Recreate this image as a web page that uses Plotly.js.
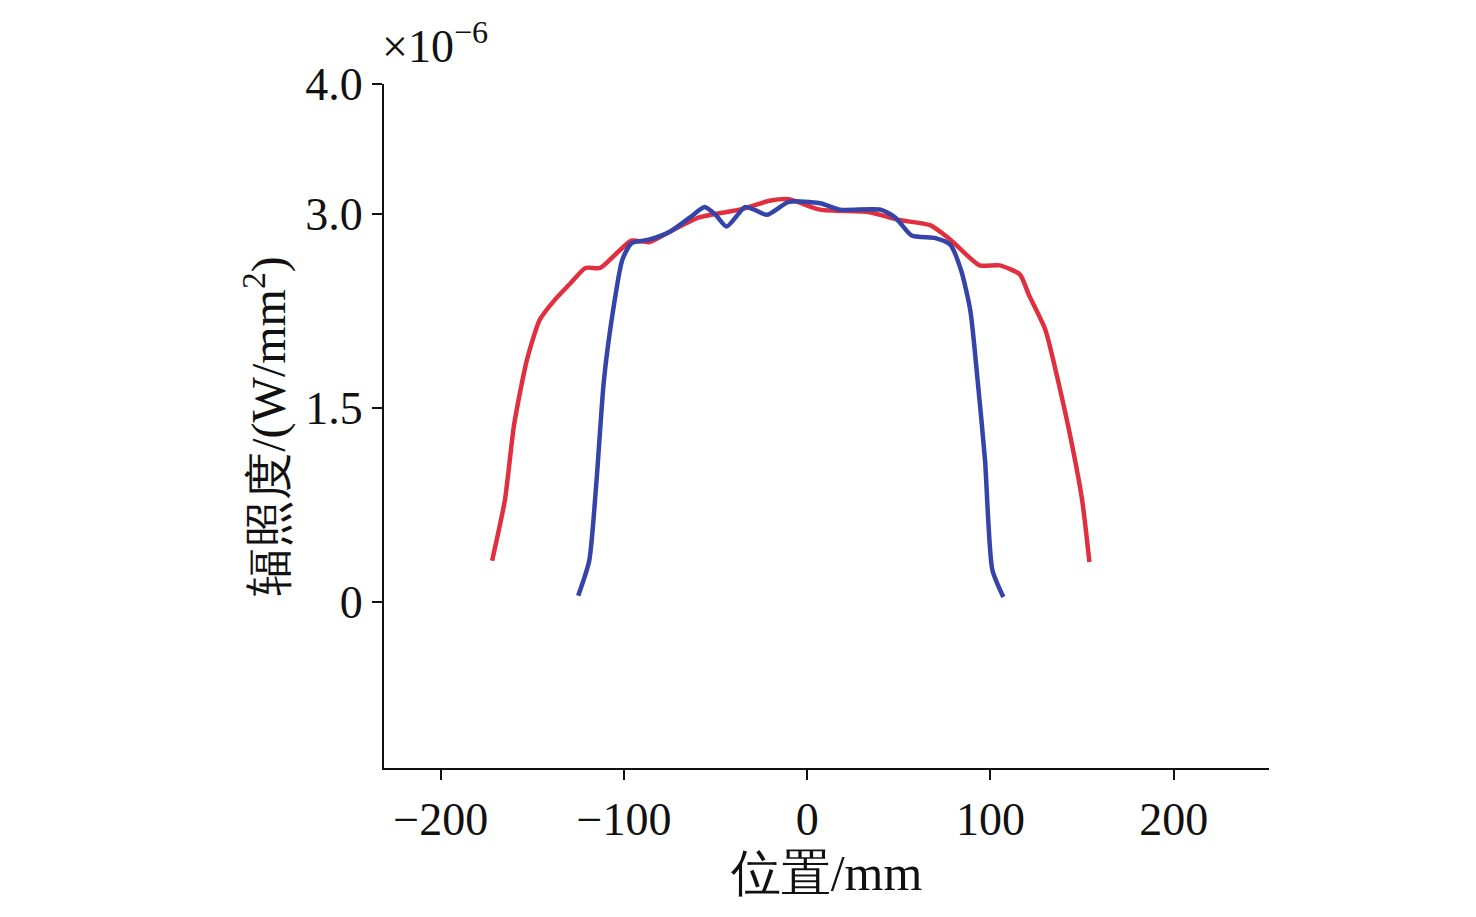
<!DOCTYPE html>
<html><head><meta charset="utf-8">
<script src="https://cdn.plot.ly/plotly-3.0.1.min.js"></script>
<style>body{margin:0;background:#fff}</style></head>
<body><div id="chart" style="width:1476px;height:917px"></div>
<script>
const redX = [-172,-165,-160,-153,-146,-138,-130,-121,-113,-105,-96,-86,-75,-59,-37,-20,-10,7,34,50,67,78,94,105,116,121,130,138,144,150,154];
const redY = [0.32,0.79,1.37,1.87,2.18,2.33,2.45,2.58,2.58,2.68,2.79,2.78,2.86,2.97,3.03,3.10,3.11,3.03,3.01,2.95,2.91,2.80,2.60,2.60,2.53,2.37,2.10,1.64,1.25,0.79,0.31];
const blueX = [-125,-119,-115,-111,-106,-101,-96,-86,-75,-64,-56,-50,-44,-34,-29,-22,-10,7,18,40,48,57,70,78,84,89,93,97,101,107];
const blueY = [0.05,0.32,0.94,1.71,2.25,2.64,2.77,2.80,2.86,2.97,3.05,2.99,2.90,3.05,3.03,2.99,3.09,3.08,3.03,3.03,2.97,2.83,2.81,2.76,2.56,2.25,1.71,1.10,0.25,0.04];
const xTicks = [-200,-100,0,100,200];
const yTicks = [0,1.5,3.0,4.0];
const yTickText = ["0","1.5","3.0","4.0"];
const font = "Liberation Serif, Times New Roman, serif";
Plotly.newPlot('chart', [
 {x: redX, y: redY, mode:'lines', line:{color:'#e0303f', width:4.5, shape:'spline', smoothing:0.6}},
 {x: blueX, y: blueY, mode:'lines', line:{color:'#3444a8', width:4.5, shape:'spline', smoothing:0.6}}
], {
 width:1476, height:917, showlegend:false,
 margin:{l:384, r:207, t:84, b:149},
 paper_bgcolor:'#fff', plot_bgcolor:'#fff',
 font:{family:font, color:'#111', size:46},
 xaxis:{range:[-231,252], tickvals:xTicks, ticktext:xTicks.map(v=>v<0?'\u2212'+(-v):String(v)),
   showgrid:false, zeroline:false, showline:true, linecolor:'#111', linewidth:2,
   ticks:'outside', ticklen:10, tickwidth:2, tickcolor:'#111',
   title:{text:'位置/mm', font:{size:50, family:font}, standoff:4}},
 yaxis:{range:[-1.28,4.0], tickvals:yTicks, ticktext:yTickText,
   showgrid:false, zeroline:false, showline:true, linecolor:'#111', linewidth:2,
   ticks:'outside', ticklen:10, tickwidth:2, tickcolor:'#111',
   title:{text:'辐照度/(W/mm<sup>2</sup>)', font:{size:48, family:font}, standoff:4}},
 annotations:[{xref:'paper', yref:'paper', x:0, y:1, xanchor:'left', yanchor:'bottom', xshift:-4, yshift:10,
   text:'×10<sup>−6</sup>', showarrow:false, font:{size:46, family:font}}]
}, {displayModeBar:false});
</script></body></html>
